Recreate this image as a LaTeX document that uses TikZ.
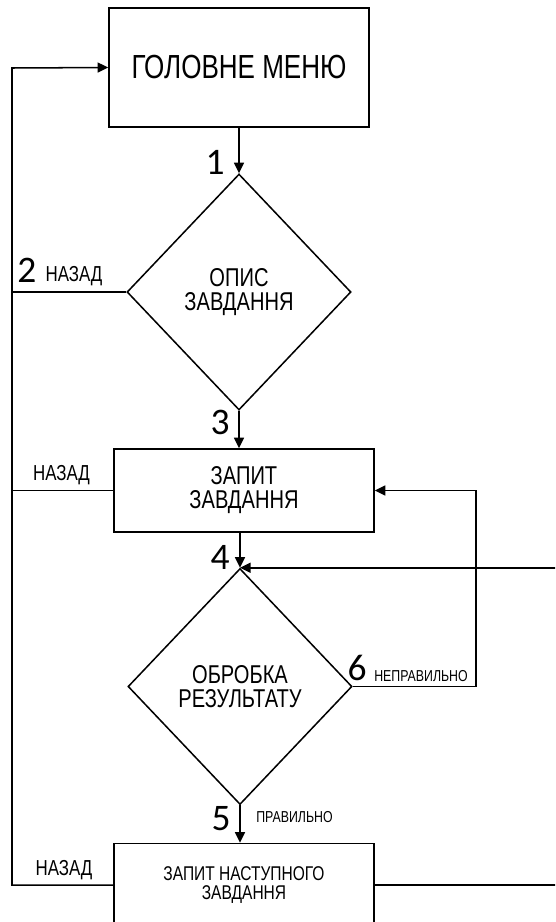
\documentclass[tikz,border=0pt]{standalone}
\usepackage{fontspec}
\setmainfont[FakeStretch=0.78]{Liberation Sans}
\newfontfamily\numfont{Carlito}
\usetikzlibrary{shapes.geometric,arrows.meta,positioning}

\tikzset{
  block/.style={draw, line width=1.3pt, minimum width=7.8cm, inner sep=0pt, align=center},
  decision/.style={draw, diamond, line width=1.3pt, minimum width=6.72cm,
    minimum height=7.08cm, inner sep=0pt, align=center,
    font=\fontsize{22}{20.5}\selectfont},
  flow/.style={line width=1.3pt},
  arr/.style={flow, -{Triangle[length=9pt,width=8.5pt]}},
  num/.style={font=\numfont\fontsize{32}{32}\selectfont, inner sep=0pt},
  lbl/.style={font=\fontsize{18.5}{18.5}\selectfont, inner sep=0pt, text depth=0pt},
  smalllbl/.style={font=\fontsize{13.5}{13.5}\selectfont, inner sep=0pt, text depth=0pt}
}

\begin{document}
\begin{tikzpicture}[x=0.03cm, y=-0.03cm]
  \useasboundingbox (0,0) rectangle (555,922);
  \clip (0,0) rectangle (555,922);
  % Blocks
  \node[block, minimum height=3.57cm, font=\fontsize{28.5}{28.5}\selectfont]
    (menu) at (239,67.5) {ГОЛОВНЕ МЕНЮ};
  \node[decision] (opys) at (239,292) {ОПИС\\ЗАВДАННЯ};
  \node[block, minimum height=2.49cm, font=\fontsize{22}{20.5}\selectfont]
    (zapyt) at (244,490.5) {ЗАПИТ\\ЗАВДАННЯ};
  \node[decision] (obrobka) at (240,686.5) {ОБРОБКА\\РЕЗУЛЬТАТУ};
  \node[block, minimum height=2.49cm, font=\fontsize{17}{16.5}\selectfont]
    (next) at (244,885) {ЗАПИТ НАСТУПНОГО\\ЗАВДАННЯ};
  % Helper points for the loops
  \coordinate (back) at (12,68);
  \coordinate (loopin) at (476,0);
  \coordinate (loopout) at (600,0);
  % Main flow
  \draw[arr] (menu.south) -- (opys.north);
  \draw[arr] (opys.south) -- (opys.south |- zapyt.north);
  \draw[arr] (zapyt.south -| obrobka.north) -- (obrobka.north);
  \draw[arr] (obrobka.south) -- (obrobka.south |- next.north);
  % Back to the main menu
  \draw[arr] (next.west) -| (back) -- (menu.west);
  \draw[flow] (opys.west) -- (opys.west -| back);
  \draw[flow] (zapyt.west) -- (zapyt.west -| back);
  % Loops on the right
  \draw[arr] (obrobka.east) -| (loopin |- zapyt.east) -- (zapyt.east);
  \draw[arr] (next.east) -| (loopout |- obrobka.north) -- (obrobka.north);
  % Labels
  \node[num] (n1) at (215,162) {1};
  \node[num] (n2) at (27,270) {2};
  \node[lbl] (back1) at (74,273.5) {НАЗАД};
  \node[num] (n3) at (220,422) {3};
  \node[lbl] (back2) at (61.5,473) {НАЗАД};
  \node[num] (n4) at (220,557) {4};
  \node[num] (n6) at (357,668) {6};
  \node[smalllbl] (wrong) at (421,676) {НЕПРАВИЛЬНО};
  \node[num] (n5) at (221,819) {5};
  \node[smalllbl] (right) at (294.5,817) {ПРАВИЛЬНО};
  \node[lbl] (back3) at (64,868) {НАЗАД};
\end{tikzpicture}
\end{document}
